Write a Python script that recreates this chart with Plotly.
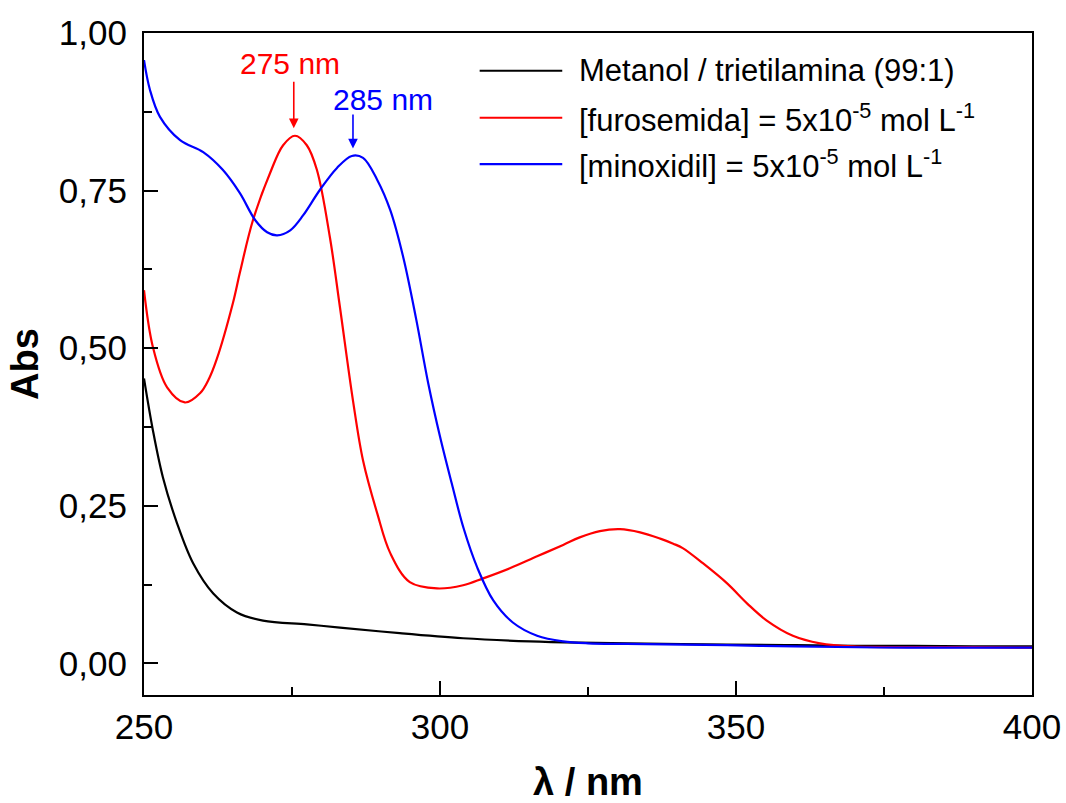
import plotly.graph_objects as go

# ---- data ----
black_wl = [250, 251.5, 253.2, 255.6, 258.3, 261.7, 265.7, 270.1, 277.5, 283.1, 293.2, 303.9,
            315.2, 323.6, 331.6, 348.5, 360, 370, 380, 390, 400]
black_abs = [0.452, 0.37, 0.295, 0.222, 0.159, 0.111, 0.081, 0.068, 0.062, 0.057, 0.048, 0.040,
             0.035, 0.033, 0.032, 0.030, 0.029, 0.028, 0.028, 0.027, 0.027]

red_wl = [250, 251.5, 253.9, 256.9, 259.5, 261, 262.3, 265, 266.2, 268.4, 271.3, 273.5, 275.5, 277.5,
          279.2, 281.4, 283.1, 285.3, 287, 289.4, 291.6, 294.9, 299.5, 303.9, 307.3, 311.8, 316.4,
          320.8, 323.6, 327, 330.4, 333.8, 337.2, 339.4, 341, 344.4, 348.5, 351.9, 355.2, 359.6,
          364.2, 369.8, 380, 390, 400]
red_abs = [0.592, 0.502, 0.438, 0.414, 0.429, 0.452, 0.483, 0.571, 0.620, 0.703, 0.778, 0.822, 0.837,
           0.822, 0.783, 0.676, 0.565, 0.417, 0.322, 0.238, 0.175, 0.129, 0.119, 0.124, 0.135, 0.151,
           0.170, 0.188, 0.200, 0.210, 0.213, 0.208, 0.198, 0.190, 0.183, 0.159, 0.127, 0.095, 0.068,
           0.044, 0.032, 0.027, 0.026, 0.026, 0.025]

blue_wl = [250, 251, 252.7, 256.1, 260, 263.3, 266.2, 268.8, 270.8, 272.5, 274.7, 276.9, 279.7,
           282.6, 285.1, 287, 289.4, 291.6, 293.8, 296, 298, 300, 302, 304, 306.3, 309,
           312.3, 316.4, 320.8, 325, 331.6, 348.5, 360, 379, 400]
blue_abs = [0.957, 0.91, 0.867, 0.830, 0.811, 0.783, 0.746, 0.703, 0.684, 0.679, 0.687, 0.711, 0.751,
            0.786, 0.805, 0.802, 0.767, 0.719, 0.644, 0.545, 0.445, 0.360, 0.285, 0.214, 0.152, 0.100,
            0.065, 0.044, 0.035, 0.032, 0.031, 0.029, 0.027, 0.025, 0.025]

series_names = ["Metanol / trietilamina (99:1)",
                "[furosemida] = 5x10<sup>-5</sup> mol L<sup>-1</sup>",
                "[minoxidil] = 5x10<sup>-5</sup> mol L<sup>-1</sup>"]
series_colors = ["#000000", "#ff0000", "#0000ff"]

peak_labels = ["275 nm", "285 nm"]
peak_wl = [275.3, 285.3]
peak_tip = [0.849, 0.817]
arrow_tail = [0.925, 0.873]
label_x = [274.6, 290.4]
label_y = [0.951, 0.895]

# ---- figure ----
fig = go.Figure()
for wl, ab, name, col in zip([black_wl, red_wl, blue_wl], [black_abs, red_abs, blue_abs],
                             series_names, series_colors):
    fig.add_trace(go.Scatter(x=wl, y=ab, mode="lines", name=name, showlegend=False,
                             line=dict(color=col, width=2.2, shape="spline", smoothing=1.0)))

FONT = "Arial, Liberation Sans, sans-serif"

# manual legend (long line samples as in the reference)
leg_y = [0.943, 0.872, 0.802]
for name, col, yy in zip(series_names, series_colors, leg_y):
    fig.add_shape(type="line", xref="paper", yref="paper", x0=0.378, x1=0.471, y0=yy, y1=yy,
                  line=dict(color=col, width=2.2))
    fig.add_annotation(xref="paper", yref="paper", x=0.488, y=yy, text=name, showarrow=False,
                       xanchor="left", yanchor="middle", font=dict(family=FONT, size=31, color="black"))

# peak annotations
for lbl, wl, tip, tail, lx, ly, col in zip(peak_labels, peak_wl, peak_tip, arrow_tail,
                                           label_x, label_y, ["#ff0000", "#0000ff"]):
    fig.add_annotation(x=wl, y=tip, ax=wl, ay=tail, xref="x", yref="y", axref="x", ayref="y",
                       text="", showarrow=True, arrowhead=2, arrowsize=1.2, arrowwidth=1.6,
                       arrowcolor=col)
    fig.add_annotation(x=lx, y=ly, xref="x", yref="y", text=lbl, showarrow=False,
                       font=dict(family=FONT, size=30, color=col))

fig.update_layout(
    width=1066, height=803,
    margin=dict(l=144, r=34, t=33, b=108),
    plot_bgcolor="white", paper_bgcolor="white",
    separators=",.",
    font=dict(family=FONT, size=35, color="black"),
)
fig.update_xaxes(
    range=[250, 400], tickmode="linear", tick0=250, dtick=50, automargin=False,
    ticks="inside", ticklen=14, tickwidth=2, tickcolor="black",
    minor=dict(ticks="inside", ticklen=8, tickwidth=2, dtick=25, tick0=250, tickcolor="black"),
    showline=True, linewidth=2.2, linecolor="black", mirror=True,
    showgrid=False, zeroline=False, ticklabelstandoff=0,
    tickfont=dict(family=FONT, size=35),
    title=dict(text="<b>λ / nm</b>", font=dict(family=FONT, size=38), standoff=27),
)
fig.update_yaxes(
    range=[-0.05, 1.0], tickmode="linear", tick0=0, dtick=0.25, tickformat=".2f", automargin=False,
    ticks="inside", ticklen=14, tickwidth=2, tickcolor="black",
    minor=dict(ticks="inside", ticklen=8, tickwidth=2, dtick=0.125, tick0=0, tickcolor="black"),
    showline=True, linewidth=2.2, linecolor="black", mirror=True,
    showgrid=False, zeroline=False, ticklabelstandoff=8,
    tickfont=dict(family=FONT, size=35),
    title=dict(text="<b>Abs</b>", font=dict(family=FONT, size=38), standoff=8),
)

fig.write_html("out.html", config={"displayModeBar": False},
               post_script="document.body.style.margin='0';")
